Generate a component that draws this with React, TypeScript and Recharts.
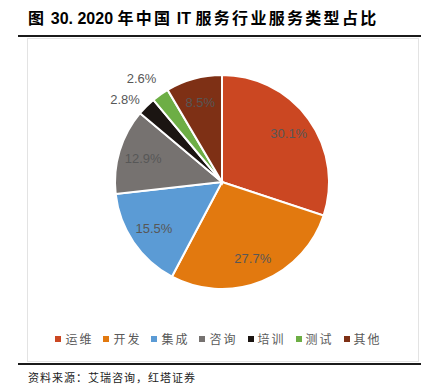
import React from "react";
import { PieChart, Pie, Cell, Legend } from "recharts";

const categories = ["运维", "开发", "集成", "咨询", "培训", "测试", "其他"];
const shares = [30.1, 27.7, 15.5, 12.9, 2.8, 2.6, 8.5];
const COLORS = ["#CB4722", "#E2790F", "#5B9BD5", "#767270", "#1B1512", "#6DAE45", "#7E3015"];

const data = categories.map((name, i) => ({ name, value: shares[i] }));

const RAD = Math.PI / 180;
const CJK = '"Noto Sans CJK SC", "Noto Sans", sans-serif';

const renderLabel = (props: any) => {
  const { cx, cy, midAngle, outerRadius, index, value } = props;
  const small = value < 5;
  const r = small ? outerRadius * 1.19 : outerRadius * 0.77;
  let x = cx + r * Math.cos(-midAngle * RAD);
  let y = cy + r * Math.sin(-midAngle * RAD);
  // outside labels of neighbouring thin slices get staggered a bit
  if (small) {
    x -= 7;
    if (index % 2 === 0) y += 8;
  }
  return (
    <text
      x={x}
      y={y}
      fill="#575757"
      fontSize={13}
      fontFamily='"Liberation Sans", Arial, sans-serif'
      textAnchor="middle"
      dominantBaseline="central"
    >
      {`${value.toFixed(1)}%`}
    </text>
  );
};

const renderLegend = () => (
  <div style={{ display: "flex", justifyContent: "center", gap: 10, fontFamily: CJK, fontSize: 12, color: "#595959", paddingLeft: 6 }}>
    {categories.map((c, i) => (
      <div key={c} style={{ display: "flex", alignItems: "center" }}>
        <span style={{ width: 6, height: 6, background: COLORS[i], display: "inline-block", marginRight: 4 }} />
        <span style={{ letterSpacing: 2 }}>{c}</span>
      </div>
    ))}
  </div>
);

const sp = { letterSpacing: 2.3 };

export default function App() {
  return (
    <div style={{ position: "absolute", left: 0, top: 0, width: 431, height: 392, background: "#fff", overflow: "hidden" }}>
      <div style={{ position: "absolute", left: 28, top: 5, fontFamily: '"Liberation Sans", "Noto Sans CJK SC", sans-serif', fontWeight: 700, fontSize: 16, color: "#000", whiteSpace: "nowrap" }}>
        <span style={sp}>图</span> 30. 2020 <span style={sp}>年中国</span> IT <span style={sp}>服务行业服务类型占比</span>
      </div>
      <div style={{ position: "absolute", left: 18, top: 35, width: 403, height: 2, background: "#1a1a1a" }} />
      <div style={{ position: "absolute", left: 27, top: 38, width: 390, height: 322, border: "1.5px solid #e3e3e3" }} />
      <div style={{ position: "absolute", left: 18, top: 363, width: 403, height: 2, background: "#1a1a1a" }} />
      <div style={{ position: "absolute", left: 28, top: 369, fontFamily: CJK, fontSize: 11, color: "#222", letterSpacing: 1, whiteSpace: "nowrap" }}>
        资料来源：艾瑞咨询，红塔证券
      </div>
      <div style={{ position: "absolute", left: 0, top: 0 }}>
        <PieChart width={431} height={392} margin={{ top: 0, right: 0, bottom: 0, left: 0 }}>
          <Pie
            data={data}
            dataKey="value"
            nameKey="name"
            cx={222}
            cy={182}
            outerRadius={107}
            startAngle={90}
            endAngle={-270}
            stroke="#fff"
            strokeWidth={2}
            label={renderLabel}
            labelLine={false}
            isAnimationActive={false}
          >
            {data.map((d, i) => (
              <Cell key={d.name} fill={COLORS[i]} />
            ))}
          </Pie>
          <Legend
            content={renderLegend}
            verticalAlign="bottom"
            wrapperStyle={{ top: 330, bottom: "auto", left: 0, width: 431 }}
          />
        </PieChart>
      </div>
    </div>
  );
}
